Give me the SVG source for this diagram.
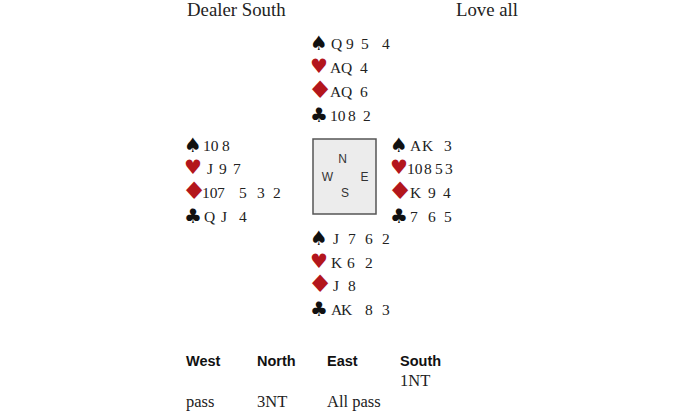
<svg xmlns="http://www.w3.org/2000/svg" width="700" height="413" viewBox="0 0 700 413">
<style>
.t{font-family:"Liberation Serif","Times New Roman",serif;font-size:15.5px;fill:#222}
.h{font-family:"Liberation Serif","Times New Roman",serif;font-size:18.8px;fill:#222}
.b{font-family:"Liberation Serif","Times New Roman",serif;font-size:16.5px;fill:#222}
.bh{font-family:"Liberation Sans",Arial,sans-serif;font-size:14.5px;font-weight:bold;fill:#111}
.s{font-family:"DejaVu Sans",sans-serif;font-size:20px;fill:#111}
.r{font-family:"DejaVu Sans",sans-serif;font-size:20px;fill:#b3161c}
.d{font-family:"DejaVu Sans",sans-serif;font-size:24px;fill:#b3161c}
.c{font-family:"Liberation Sans",Arial,sans-serif;font-size:12px;fill:#333;text-anchor:middle}
</style>
<rect width="700" height="413" fill="#fff"/>
<g id="header">
<text class="h" x="187" y="16">Dealer South</text>
<text class="h" x="456" y="16">Love all</text>
</g>
<g id="north">
<text class="s" x="310" y="50">♠</text>
<text class="t" y="49"><tspan x="331">Q</tspan> <tspan x="346">9</tspan> <tspan x="361">5</tspan> <tspan x="382">4</tspan></text>
<text class="r" x="310" y="73">♥</text>
<text class="t" y="73"><tspan x="330">A</tspan><tspan x="341">Q</tspan> <tspan x="360">4</tspan></text>
<text class="d" transform="translate(307.3,98) scale(1.2,1)">♦</text>
<text class="t" y="97"><tspan x="330">A</tspan><tspan x="341">Q</tspan> <tspan x="360">6</tspan></text>
<text class="s" x="310" y="122">♣</text>
<text class="t" y="121"><tspan x="330">10</tspan><tspan x="348">8</tspan> <tspan x="363">2</tspan></text>
</g>
<g id="west">
<text class="s" x="184" y="152">♠</text>
<text class="t" y="151"><tspan x="203">10</tspan><tspan x="222">8</tspan></text>
<text class="r" x="184" y="174">♥</text>
<text class="t" y="174"><tspan x="207">J</tspan> <tspan x="219">9</tspan> <tspan x="233">7</tspan></text>
<text class="d" transform="translate(181.3,199) scale(1.2,1)">♦</text>
<text class="t" y="198"><tspan x="202">10</tspan><tspan x="217">7</tspan> <tspan x="239">5</tspan> <tspan x="257">3</tspan> <tspan x="273">2</tspan></text>
<text class="s" x="184" y="223">♣</text>
<text class="t" y="222"><tspan x="204">Q</tspan> <tspan x="221">J</tspan> <tspan x="239">4</tspan></text>
</g>
<g id="table">
<rect x="313" y="139" width="63" height="75" fill="#ececec" stroke="#555" stroke-width="1.5"/>
<text class="c" x="342.5" y="163">N</text>
<text class="c" x="327.5" y="181">W</text>
<text class="c" x="364.5" y="181">E</text>
<text class="c" x="345" y="197">S</text>
</g>
<g id="east">
<text class="s" x="390" y="152">♠</text>
<text class="t" y="151"><tspan x="410">A</tspan><tspan x="422">K</tspan> <tspan x="444">3</tspan></text>
<text class="r" x="390" y="174">♥</text>
<text class="t" y="174"><tspan x="407">10</tspan><tspan x="424">8</tspan><tspan x="435">5</tspan><tspan x="445">3</tspan></text>
<text class="d" transform="translate(387.3,199) scale(1.2,1)">♦</text>
<text class="t" y="198"><tspan x="410">K</tspan> <tspan x="428">9</tspan> <tspan x="443">4</tspan></text>
<text class="s" x="390" y="223">♣</text>
<text class="t" y="222"><tspan x="410">7</tspan> <tspan x="428">6</tspan> <tspan x="444">5</tspan></text>
</g>
<g id="south">
<text class="s" x="310" y="245">♠</text>
<text class="t" y="244"><tspan x="333">J</tspan> <tspan x="348">7</tspan> <tspan x="365">6</tspan> <tspan x="382">2</tspan></text>
<text class="r" x="310" y="268">♥</text>
<text class="t" y="268"><tspan x="331">K</tspan> <tspan x="347">6</tspan> <tspan x="365">2</tspan></text>
<text class="d" transform="translate(307.3,292) scale(1.2,1)">♦</text>
<text class="t" y="291"><tspan x="333">J</tspan> <tspan x="348">8</tspan></text>
<text class="s" x="310" y="316">♣</text>
<text class="t" y="315"><tspan x="331">A</tspan><tspan x="341">K</tspan> <tspan x="365">8</tspan> <tspan x="382">3</tspan></text>
</g>
<g id="bidding">
<text class="bh" x="186" y="366">West</text>
<text class="bh" x="257" y="366">North</text>
<text class="bh" x="327" y="366">East</text>
<text class="bh" x="400" y="366">South</text>
<text class="b" x="400" y="386">1NT</text>
<text class="b" x="186" y="407">pass</text>
<text class="b" x="257" y="407">3NT</text>
<text class="b" x="327" y="407">All pass</text>
</g>
</svg>
